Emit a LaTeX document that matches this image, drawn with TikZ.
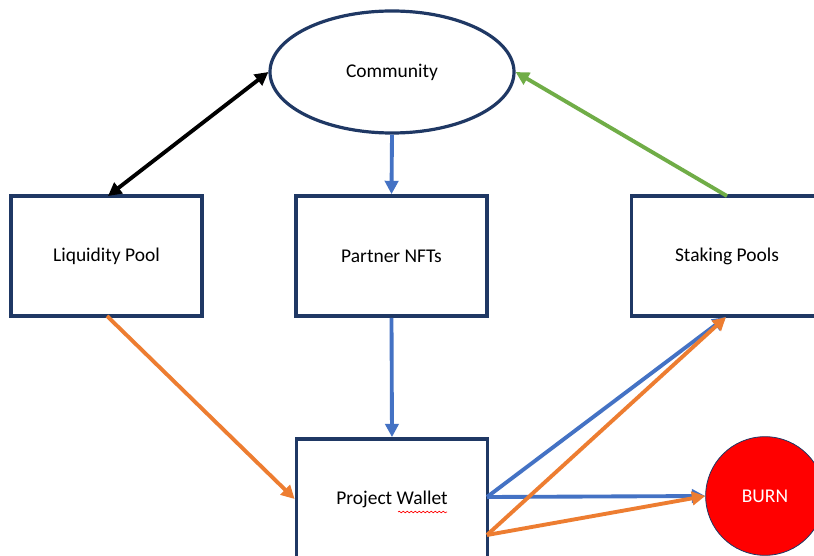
\documentclass[tikz,border=0pt]{standalone}
\usepackage{fontspec}
\setmainfont{Carlito}
\usetikzlibrary{arrows.meta,shapes.geometric,decorations.pathmorphing}
\definecolor{navy}{HTML}{1F3864}
\definecolor{fblue}{HTML}{4472C4}
\definecolor{forange}{HTML}{ED7D31}
\definecolor{fgreen}{HTML}{70AD47}
\definecolor{fred}{HTML}{FF0000}
\tikzset{
  boxnode/.style={draw=navy, line width=2.8pt, fill=white, minimum width=143.25pt, minimum height=90pt, inner sep=0pt, font=\fontsize{14.6}{17}\selectfont},
  ellnode/.style={ellipse, draw=navy, line width=2.4pt, fill=white, minimum width=183pt, minimum height=91.5pt, inner sep=0pt, font=\fontsize{14.6}{17}\selectfont},
  burnnode/.style={circle, draw=navy, line width=0.6pt, fill=fred, minimum size=89pt, inner sep=0pt, text=white, font=\fontsize{14.6}{17}\selectfont},
  arr/.style={line width=2.9pt, -{Triangle[length=10pt,width=10pt]}},
  dblarr/.style={line width=2.9pt, {Triangle[length=10pt,width=10pt]}-{Triangle[length=10pt,width=10pt]}}
}
\begin{document}
\begin{tikzpicture}[x=0.75pt,y=-0.75pt]
\useasboundingbox (0,0) rectangle (814,556);
\clip (0,0) rectangle (814,556);
\fill[white] (0,0) rectangle (814,556);
\node[ellnode] (com) at (392,72) {Community};
\node[boxnode] (liq) at (106.5,256) {Liquidity Pool};
\node[boxnode] (pnf) at (391.5,256) {Partner NFTs};
\node[boxnode] (stk) at (727,256) {Staking Pools};
\node[boxnode] (pw) at (392,499) {Project Wallet};
\node[burnnode] (burn) at (765,496) {BURN};
\coordinate (pwa) at (487,497);
\coordinate (pwb) at (487,535);
\coordinate (liqt) at (108,196);
\coordinate (liqb) at (107,316);
\coordinate (stkt) at (727,196);
\coordinate (stkb) at (726,317);
% red wavy underline under "Wallet"
\draw[fred, line width=0.5pt, decorate, decoration={snake, amplitude=0.6pt, segment length=3pt}] (398,512) -- (447,512);
% connectors
\draw[dblarr, black] (liqt) -- (com.west);
\draw[arr, fblue] (com.south) -- (pnf.north);
\draw[arr, fgreen] (stkt) -- (com.east);
\draw[arr, fblue] (pnf.south) -- (pw.north);
\draw[arr, forange] (liqb) -- (pw.west);
\draw[arr, fblue] (pwa) -- (stkb);
\draw[arr, fblue] (pwa) -- (burn.west);
\draw[arr, forange] (pwb) -- (stkb);
\draw[arr, forange] (pwb) -- (burn.west);
\end{tikzpicture}
\end{document}
